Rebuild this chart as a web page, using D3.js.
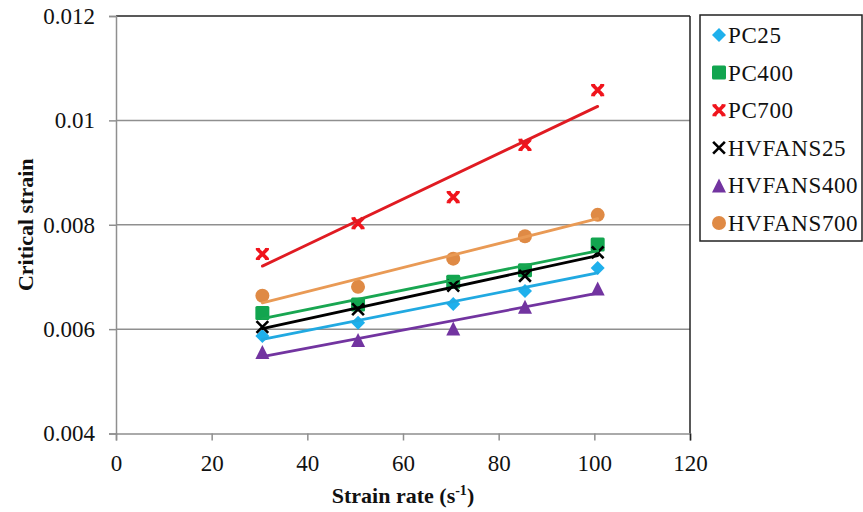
<!DOCTYPE html>
<html>
<head>
<meta charset="utf-8">
<script src="https://cdn.jsdelivr.net/npm/d3@7"></script>
<style>
  html, body { margin: 0; padding: 0; background: #fff; }
  svg { display: block; font-family: "Liberation Serif", "Times New Roman", serif; }
</style>
</head>
<body>
<svg id="chart" width="863" height="512"></svg>
<script>
// Strain rates (s^-1) at which the tests were run
const strainRates = [30.6, 50.6, 70.5, 85.5, 100.7];

// Critical strain for each mix
const pc25      = [0.00587, 0.00612, 0.00648, 0.00673, 0.00717];
const pc400     = [0.00631, 0.00647, 0.00691, 0.00713, 0.00762];
const pc700     = [0.00744, 0.00803, 0.00853, 0.00953, 0.01058];
const hvfans25  = [0.00604, 0.00638, 0.00683, 0.00702, 0.00747];
const hvfans400 = [0.00556, 0.00579, 0.00601, 0.00643, 0.00678];
const hvfans700 = [0.00664, 0.00681, 0.00735, 0.00778, 0.00819];

const seriesNames = ["PC25", "PC400", "PC700", "HVFANS25", "HVFANS400", "HVFANS700"];
const seriesValues = [pc25, pc400, pc700, hvfans25, hvfans400, hvfans700];

const xTicks = [0, 20, 40, 60, 80, 100, 120];
const yTicks = [0.004, 0.006, 0.008, 0.010, 0.012];

const styles = {
  PC25:      { marker: "diamond",  fill: "#1fb0ec", line: "#21a9e1" },
  PC400:     { marker: "square",   fill: "#12a54f", line: "#18a651" },
  PC700:     { marker: "boldx",    fill: "#f0141c", line: "#e01b22" },
  HVFANS25:  { marker: "x",        fill: "#000000", line: "#000000" },
  HVFANS400: { marker: "triangle", fill: "#7234a0", line: "#7234a0" },
  HVFANS700: { marker: "circle",   fill: "#df8a45", line: "#e99a55" }
};

const series = seriesNames.map((name, i) => ({
  name,
  points: strainRates.map((x, j) => ({ x, y: seriesValues[i][j] })),
  style: styles[name]
}));

const svg = d3.select("#chart");
const plot = { left: 116, right: 690, top: 16, bottom: 433.5 };

const x = d3.scaleLinear().domain([0, 120]).range([plot.left, plot.right]);
const y = d3.scaleLinear().domain([0.004, 0.012]).range([plot.bottom, plot.top]);

const gridColor = "#8f8f8f";
const serif = "'Liberation Serif', 'Times New Roman', serif";

// Horizontal gridlines
svg.append("g").selectAll("line")
  .data(yTicks.filter(t => t > 0.004 && t < 0.012))
  .join("line")
  .attr("x1", plot.left).attr("x2", plot.right)
  .attr("y1", d => y(d)).attr("y2", d => y(d))
  .attr("stroke", gridColor).attr("stroke-width", 1.5);

// Top and right frame edges
svg.append("line")
  .attr("x1", plot.left).attr("x2", plot.right)
  .attr("y1", y(0.012)).attr("y2", y(0.012))
  .attr("stroke", "#222").attr("stroke-width", 1.5);
svg.append("line")
  .attr("x1", plot.right).attr("x2", plot.right)
  .attr("y1", plot.top).attr("y2", plot.bottom)
  .attr("stroke", "#222").attr("stroke-width", 1.5);

// Axes
const fmtY = d => String(+d.toFixed(3));
const yAxis = svg.append("g")
  .attr("transform", `translate(${plot.left},0)`)
  .call(d3.axisLeft(y).tickValues(yTicks).tickFormat(fmtY).tickSize(7).tickPadding(14));
const xAxis = svg.append("g")
  .attr("transform", `translate(0,${plot.bottom})`)
  .call(d3.axisBottom(x).tickValues(xTicks).tickFormat(d3.format("d")).tickSize(7).tickPadding(14));

[yAxis, xAxis].forEach(g => {
  g.select(".domain").attr("stroke", gridColor).attr("stroke-width", 1.5);
  g.selectAll(".tick line").attr("stroke", gridColor).attr("stroke-width", 1.5);
  g.selectAll(".tick text")
    .attr("fill", "#111")
    .style("font-family", serif)
    .style("font-size", "23px");
});
xAxis.select(".tick:last-child line").attr("stroke", "#222");

// Axis titles
svg.append("text")
  .attr("transform", `translate(33,${(plot.top + plot.bottom) / 2}) rotate(-90)`)
  .attr("text-anchor", "middle")
  .style("font-family", serif)
  .style("font-weight", "bold").style("font-size", "22px")
  .attr("fill", "#111")
  .text("Critical strain");

const xt = svg.append("text")
  .attr("x", (plot.left + plot.right) / 2)
  .attr("y", 503)
  .attr("text-anchor", "middle")
  .style("font-family", serif)
  .style("font-weight", "bold").style("font-size", "22px")
  .attr("fill", "#111");
xt.append("tspan").text("Strain rate (s");
xt.append("tspan").attr("dy", -8).style("font-size", "14px").text("-1");
xt.append("tspan").attr("dy", 8).text(")");

// Marker drawing
function drawMarker(g, kind, color, size) {
  const s = size;
  switch (kind) {
    case "diamond":
      g.append("path").attr("d", `M0,${-s/2}L${s/2},0L0,${s/2}L${-s/2},0Z`).attr("fill", color);
      break;
    case "square":
      g.append("rect").attr("x", -s/2).attr("y", -s/2).attr("width", s).attr("height", s)
        .attr("rx", 1.5).attr("fill", color);
      break;
    case "triangle":
      g.append("path").attr("d", `M0,${-s/2}L${s/2},${s/2}L${-s/2},${s/2}Z`).attr("fill", color);
      break;
    case "circle":
      g.append("circle").attr("r", s/2).attr("fill", color);
      break;
    case "x": {
      const h = s * 0.42;
      g.append("path").attr("d", `M${-h},${-h}L${h},${h}M${h},${-h}L${-h},${h}`)
        .attr("stroke", color).attr("stroke-width", 2.6).attr("fill", "none");
      break;
    }
    case "boldx": {
      const h = s * 0.36;
      g.append("path").attr("d", `M${-h},${-h}L${h},${h}M${h},${-h}L${-h},${h}`)
        .attr("stroke", color).attr("stroke-width", 3.6).attr("fill", "none");
      g.append("path").attr("d", `M${-h-1.5},${-h}H${-h+2.5}M${h-2.5},${-h}H${h+1.5}M${-h-1.5},${h}H${-h+2.5}M${h-2.5},${h}H${h+1.5}`)
        .attr("stroke", color).attr("stroke-width", 2).attr("fill", "none");
      break;
    }
  }
}

// Data markers
const markerLayer = svg.append("g");
series.forEach(s => {
  s.points.forEach(p => {
    const g = markerLayer.append("g").attr("transform", `translate(${x(p.x)},${y(p.y)})`);
    drawMarker(g, s.style.marker, s.style.fill, 14);
  });
});

// Least-squares trendlines over the tested strain-rate range
function linearFit(pts) {
  const mx = d3.mean(pts, p => p.x), my = d3.mean(pts, p => p.y);
  const sxy = d3.sum(pts, p => (p.x - mx) * (p.y - my));
  const sxx = d3.sum(pts, p => (p.x - mx) ** 2);
  const b = sxy / sxx;
  return xv => my + b * (xv - mx);
}
const lineLayer = svg.append("g");
series.forEach(s => {
  const f = linearFit(s.points);
  const [x0, x1] = d3.extent(s.points, p => p.x);
  lineLayer.append("line")
    .attr("x1", x(x0)).attr("y1", y(f(x0)))
    .attr("x2", x(x1)).attr("y2", y(f(x1)))
    .attr("stroke", s.style.line).attr("stroke-width", 2.8)
    .attr("stroke-linecap", "round");
});

// Legend
const legend = svg.append("g");
legend.append("rect")
  .attr("x", 700).attr("y", 15).attr("width", 162).attr("height", 226)
  .attr("fill", "#fff").attr("stroke", "#222").attr("stroke-width", 1.5);
series.forEach((s, i) => {
  const cy = 35 + i * 37.6;
  const g = legend.append("g").attr("transform", `translate(719,${cy})`);
  drawMarker(g, s.style.marker, s.style.fill, 14);
  legend.append("text")
    .attr("x", 728).attr("y", cy)
    .attr("dy", "0.35em")
    .style("font-family", serif)
    .style("font-size", "23px")
    .style("letter-spacing", "0.6px")
    .attr("fill", "#111")
    .text(s.name);
});
</script>
</body>
</html>
